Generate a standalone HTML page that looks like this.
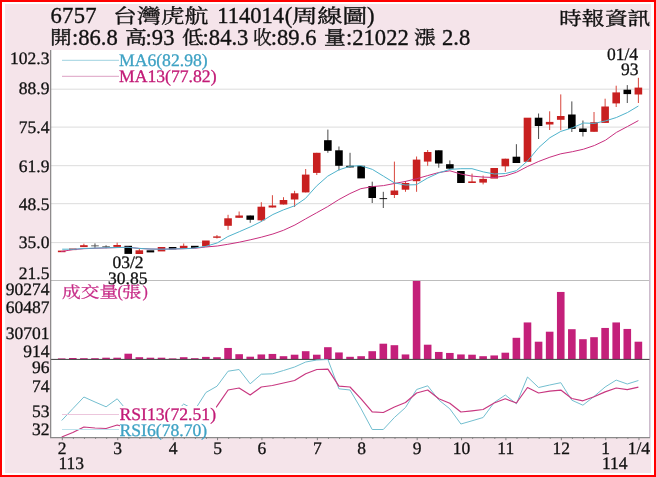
<!DOCTYPE html>
<html lang="zh-Hant"><head><meta charset="utf-8"><title>6757 台灣虎航 周線圖</title>
<style>
html,body{margin:0;padding:0;background:#fff;}
body{width:656px;height:477px;overflow:hidden;position:relative;font-family:'Liberation Serif','Noto Serif CJK TC','Noto Serif CJK SC',serif;color:#111;}
#frame{position:absolute;left:0;top:0;width:652px;height:473px;border:2px solid #ff0000;background:#fff;}
#bg{position:absolute;left:5px;top:4.3px;width:646px;height:468.3px;background:#f5e4ea;}
.t{position:absolute;white-space:nowrap;line-height:1;}
.h{transform:scaleY(1.04);transform-origin:0 60%;font-size:22.6px;-webkit-text-stroke:0.35px #111;}
.cj{transform-origin:0 0;-webkit-text-stroke:0.35px #111;}
.ax{text-rendering:geometricPrecision;font-size:17.5px;-webkit-text-stroke:0.3px #111;}
.yl{text-rendering:geometricPrecision;font-size:17.5px;text-align:right;width:46px;left:3.4px;-webkit-text-stroke:0.3px #111;}
.lg{text-rendering:geometricPrecision;font-size:17.65px;background:#fff;-webkit-text-stroke:0.3px currentColor;}
</style></head><body>
<div id="frame"></div><div id="bg"></div>
<svg width="656" height="477" viewBox="0 0 656 477" style="position:absolute;left:0;top:0">
<rect x="51" y="50" width="599" height="387.5" fill="#ffffff"/>
<line x1="51" x2="649.5" y1="89.2" y2="89.2" stroke="#dcdcdc" stroke-width="1"/>
<line x1="51" x2="649.5" y1="127.1" y2="127.1" stroke="#dcdcdc" stroke-width="1"/>
<line x1="51" x2="649.5" y1="165.7" y2="165.7" stroke="#dcdcdc" stroke-width="1"/>
<line x1="51" x2="649.5" y1="203.7" y2="203.7" stroke="#dcdcdc" stroke-width="1"/>
<line x1="51" x2="649.5" y1="242.6" y2="242.6" stroke="#dcdcdc" stroke-width="1"/>
<line x1="51" x2="649.5" y1="280.5" y2="280.5" stroke="#bdbdbd" stroke-width="1.2"/>
<line x1="649.7" x2="649.7" y1="50" y2="437.5" stroke="#cdbccd" stroke-width="1.4"/>
<rect x="57.90" y="358.40" width="7.6" height="0.80" fill="#c4207a"/>
<rect x="68.99" y="358.00" width="7.6" height="1.20" fill="#c4207a"/>
<rect x="80.08" y="358.20" width="7.6" height="1.00" fill="#c4207a"/>
<rect x="91.17" y="358.20" width="7.6" height="1.00" fill="#c4207a"/>
<rect x="102.26" y="357.70" width="7.6" height="1.50" fill="#c4207a"/>
<rect x="113.35" y="357.70" width="7.6" height="1.50" fill="#c4207a"/>
<rect x="124.44" y="353.70" width="7.6" height="5.50" fill="#c4207a"/>
<rect x="135.53" y="357.20" width="7.6" height="2.00" fill="#c4207a"/>
<rect x="146.62" y="357.70" width="7.6" height="1.50" fill="#c4207a"/>
<rect x="157.71" y="357.70" width="7.6" height="1.50" fill="#c4207a"/>
<rect x="168.80" y="358.40" width="7.6" height="0.80" fill="#c4207a"/>
<rect x="179.89" y="357.20" width="7.6" height="2.00" fill="#c4207a"/>
<rect x="190.98" y="358.20" width="7.6" height="1.00" fill="#c4207a"/>
<rect x="202.07" y="356.90" width="7.6" height="2.30" fill="#c4207a"/>
<rect x="213.16" y="357.20" width="7.6" height="2.00" fill="#c4207a"/>
<rect x="224.25" y="347.95" width="7.6" height="11.25" fill="#c4207a"/>
<rect x="235.34" y="354.20" width="7.6" height="5.00" fill="#c4207a"/>
<rect x="246.43" y="356.70" width="7.6" height="2.50" fill="#c4207a"/>
<rect x="257.52" y="354.45" width="7.6" height="4.75" fill="#c4207a"/>
<rect x="268.61" y="353.95" width="7.6" height="5.25" fill="#c4207a"/>
<rect x="279.70" y="356.20" width="7.6" height="3.00" fill="#c4207a"/>
<rect x="290.79" y="354.70" width="7.6" height="4.50" fill="#c4207a"/>
<rect x="301.88" y="351.20" width="7.6" height="8.00" fill="#c4207a"/>
<rect x="312.97" y="354.70" width="7.6" height="4.50" fill="#c4207a"/>
<rect x="324.06" y="347.20" width="7.6" height="12.00" fill="#c4207a"/>
<rect x="335.15" y="352.45" width="7.6" height="6.75" fill="#c4207a"/>
<rect x="346.24" y="356.80" width="7.6" height="2.40" fill="#c4207a"/>
<rect x="357.33" y="356.20" width="7.6" height="3.00" fill="#c4207a"/>
<rect x="368.42" y="351.20" width="7.6" height="8.00" fill="#c4207a"/>
<rect x="379.51" y="343.70" width="7.6" height="15.50" fill="#c4207a"/>
<rect x="390.60" y="345.20" width="7.6" height="14.00" fill="#c4207a"/>
<rect x="401.69" y="354.45" width="7.6" height="4.75" fill="#c4207a"/>
<rect x="412.78" y="280.95" width="7.6" height="78.25" fill="#c4207a"/>
<rect x="423.87" y="344.70" width="7.6" height="14.50" fill="#c4207a"/>
<rect x="434.96" y="351.95" width="7.6" height="7.25" fill="#c4207a"/>
<rect x="446.05" y="352.95" width="7.6" height="6.25" fill="#c4207a"/>
<rect x="457.14" y="354.45" width="7.6" height="4.75" fill="#c4207a"/>
<rect x="468.23" y="354.70" width="7.6" height="4.50" fill="#c4207a"/>
<rect x="479.32" y="356.20" width="7.6" height="3.00" fill="#c4207a"/>
<rect x="490.41" y="355.45" width="7.6" height="3.75" fill="#c4207a"/>
<rect x="501.50" y="352.70" width="7.6" height="6.50" fill="#c4207a"/>
<rect x="512.59" y="337.80" width="7.6" height="21.40" fill="#c4207a"/>
<rect x="523.68" y="322.45" width="7.6" height="36.75" fill="#c4207a"/>
<rect x="534.77" y="341.70" width="7.6" height="17.50" fill="#c4207a"/>
<rect x="545.86" y="331.70" width="7.6" height="27.50" fill="#c4207a"/>
<rect x="556.95" y="291.95" width="7.6" height="67.25" fill="#c4207a"/>
<rect x="568.04" y="329.20" width="7.6" height="30.00" fill="#c4207a"/>
<rect x="579.13" y="339.20" width="7.6" height="20.00" fill="#c4207a"/>
<rect x="590.22" y="337.20" width="7.6" height="22.00" fill="#c4207a"/>
<rect x="601.31" y="327.95" width="7.6" height="31.25" fill="#c4207a"/>
<rect x="612.40" y="322.45" width="7.6" height="36.75" fill="#c4207a"/>
<rect x="623.49" y="328.95" width="7.6" height="30.25" fill="#c4207a"/>
<rect x="634.58" y="341.70" width="7.6" height="17.50" fill="#c4207a"/>
<line x1="51" x2="649.5" y1="359.4" y2="359.4" stroke="#3c3c3c" stroke-width="1"/>
<rect x="57.90" y="250.6" width="7.6" height="1.6" fill="#c82020"/>
<rect x="68.99" y="248.5" width="7.6" height="1.6" fill="#c82020"/>
<line x1="83.88" x2="83.88" y1="243.7" y2="247.1" stroke="#d8463c" stroke-width="1"/>
<rect x="80.08" y="245.2" width="7.6" height="1.9" fill="#c82020"/>
<line x1="94.97" x2="94.97" y1="243.4" y2="247.9" stroke="#4a4a4a" stroke-width="1"/>
<rect x="91.17" y="245.4" width="7.6" height="0.9" fill="#555555"/>
<line x1="106.06" x2="106.06" y1="245.3" y2="248.2" stroke="#4a4a4a" stroke-width="1"/>
<rect x="102.26" y="246.3" width="7.6" height="0.9" fill="#555555"/>
<line x1="117.15" x2="117.15" y1="242.7" y2="246.9" stroke="#d8463c" stroke-width="1"/>
<rect x="113.35" y="245.0" width="7.6" height="1.9" fill="#c82020"/>
<rect x="124.44" y="245.8" width="7.6" height="8.1" fill="#000000"/>
<line x1="139.33" x2="139.33" y1="248.8" y2="254.0" stroke="#d8463c" stroke-width="1"/>
<rect x="135.53" y="250.3" width="7.6" height="3.7" fill="#c82020"/>
<rect x="146.62" y="250.3" width="7.6" height="2.1" fill="#000000"/>
<rect x="157.71" y="247.0" width="7.6" height="4.4" fill="#c82020"/>
<rect x="168.80" y="247.0" width="7.6" height="2.3" fill="#000000"/>
<line x1="183.69" x2="183.69" y1="243.5" y2="248.7" stroke="#d8463c" stroke-width="1"/>
<rect x="179.89" y="245.8" width="7.6" height="2.9" fill="#c82020"/>
<rect x="190.98" y="245.8" width="7.6" height="2.1" fill="#000000"/>
<rect x="202.07" y="240.5" width="7.6" height="5.9" fill="#c82020"/>
<line x1="216.96" x2="216.96" y1="235.0" y2="238.5" stroke="#d8463c" stroke-width="1"/>
<rect x="213.16" y="236.4" width="7.6" height="1.4" fill="#c82020"/>
<line x1="228.05" x2="228.05" y1="214.8" y2="229.9" stroke="#d8463c" stroke-width="1"/>
<rect x="224.25" y="218.3" width="7.6" height="7.5" fill="#c82020"/>
<line x1="239.14" x2="239.14" y1="211.5" y2="217.8" stroke="#d8463c" stroke-width="1"/>
<rect x="235.34" y="215.5" width="7.6" height="2.3" fill="#c82020"/>
<line x1="250.23" x2="250.23" y1="215.5" y2="222.8" stroke="#4a4a4a" stroke-width="1"/>
<rect x="246.43" y="215.5" width="7.6" height="4.3" fill="#000000"/>
<line x1="261.32" x2="261.32" y1="202.2" y2="221.6" stroke="#d8463c" stroke-width="1"/>
<rect x="257.52" y="206.7" width="7.6" height="13.6" fill="#c82020"/>
<line x1="272.41" x2="272.41" y1="195.2" y2="207.5" stroke="#d8463c" stroke-width="1"/>
<rect x="268.61" y="205.5" width="7.6" height="2.0" fill="#c82020"/>
<line x1="283.50" x2="283.50" y1="197.2" y2="204.5" stroke="#d8463c" stroke-width="1"/>
<rect x="279.70" y="200.0" width="7.6" height="4.5" fill="#c82020"/>
<line x1="294.59" x2="294.59" y1="190.8" y2="207.0" stroke="#d8463c" stroke-width="1"/>
<rect x="290.79" y="193.3" width="7.6" height="6.2" fill="#c82020"/>
<line x1="305.68" x2="305.68" y1="169.0" y2="192.4" stroke="#d8463c" stroke-width="1"/>
<rect x="301.88" y="174.6" width="7.6" height="17.8" fill="#c82020"/>
<line x1="316.77" x2="316.77" y1="152.8" y2="175.0" stroke="#d8463c" stroke-width="1"/>
<rect x="312.97" y="152.8" width="7.6" height="20.1" fill="#c82020"/>
<line x1="327.86" x2="327.86" y1="129.6" y2="152.8" stroke="#4a4a4a" stroke-width="1"/>
<rect x="324.06" y="140.2" width="7.6" height="10.6" fill="#000000"/>
<line x1="338.95" x2="338.95" y1="146.5" y2="170.4" stroke="#4a4a4a" stroke-width="1"/>
<rect x="335.15" y="150.3" width="7.6" height="15.5" fill="#000000"/>
<line x1="350.04" x2="350.04" y1="152.8" y2="167.4" stroke="#4a4a4a" stroke-width="1"/>
<rect x="346.24" y="165.8" width="7.6" height="1.6" fill="#000000"/>
<rect x="357.33" y="165.8" width="7.6" height="12.6" fill="#000000"/>
<line x1="372.22" x2="372.22" y1="181.7" y2="203.0" stroke="#4a4a4a" stroke-width="1"/>
<rect x="368.42" y="186.0" width="7.6" height="12.0" fill="#000000"/>
<line x1="383.31" x2="383.31" y1="191.8" y2="208.0" stroke="#4a4a4a" stroke-width="1"/>
<rect x="379.51" y="198.2" width="7.6" height="0.9" fill="#000000"/>
<line x1="394.40" x2="394.40" y1="161.6" y2="198.0" stroke="#d8463c" stroke-width="1"/>
<rect x="390.60" y="190.5" width="7.6" height="4.5" fill="#c82020"/>
<line x1="405.49" x2="405.49" y1="181.0" y2="191.8" stroke="#d8463c" stroke-width="1"/>
<rect x="401.69" y="183.0" width="7.6" height="6.7" fill="#c82020"/>
<line x1="416.58" x2="416.58" y1="156.5" y2="191.8" stroke="#d8463c" stroke-width="1"/>
<rect x="412.78" y="159.6" width="7.6" height="21.6" fill="#c82020"/>
<line x1="427.67" x2="427.67" y1="150.0" y2="165.8" stroke="#d8463c" stroke-width="1"/>
<rect x="423.87" y="152.0" width="7.6" height="9.6" fill="#c82020"/>
<line x1="438.76" x2="438.76" y1="150.3" y2="167.7" stroke="#4a4a4a" stroke-width="1"/>
<rect x="434.96" y="150.3" width="7.6" height="13.2" fill="#000000"/>
<line x1="449.85" x2="449.85" y1="160.4" y2="168.7" stroke="#4a4a4a" stroke-width="1"/>
<rect x="446.05" y="164.2" width="7.6" height="4.5" fill="#000000"/>
<rect x="457.14" y="171.0" width="7.6" height="12.0" fill="#000000"/>
<line x1="472.03" x2="472.03" y1="173.6" y2="183.0" stroke="#d8463c" stroke-width="1"/>
<rect x="468.23" y="181.4" width="7.6" height="1.6" fill="#c82020"/>
<line x1="483.12" x2="483.12" y1="175.6" y2="184.4" stroke="#d8463c" stroke-width="1"/>
<rect x="479.32" y="178.9" width="7.6" height="3.7" fill="#c82020"/>
<rect x="490.41" y="168.0" width="7.6" height="10.6" fill="#c82020"/>
<line x1="505.30" x2="505.30" y1="158.7" y2="171.8" stroke="#d8463c" stroke-width="1"/>
<rect x="501.50" y="158.7" width="7.6" height="7.6" fill="#c82020"/>
<line x1="516.39" x2="516.39" y1="144.2" y2="163.0" stroke="#4a4a4a" stroke-width="1"/>
<rect x="512.59" y="156.7" width="7.6" height="6.3" fill="#000000"/>
<rect x="523.68" y="117.7" width="7.6" height="44.1" fill="#c82020"/>
<line x1="538.57" x2="538.57" y1="113.5" y2="139.0" stroke="#4a4a4a" stroke-width="1"/>
<rect x="534.77" y="117.7" width="7.6" height="8.3" fill="#000000"/>
<line x1="549.66" x2="549.66" y1="111.3" y2="130.0" stroke="#d8463c" stroke-width="1"/>
<rect x="545.86" y="121.9" width="7.6" height="2.6" fill="#c82020"/>
<line x1="560.75" x2="560.75" y1="94.4" y2="130.2" stroke="#d8463c" stroke-width="1"/>
<rect x="556.95" y="116.0" width="7.6" height="3.8" fill="#c82020"/>
<line x1="571.84" x2="571.84" y1="101.4" y2="132.0" stroke="#4a4a4a" stroke-width="1"/>
<rect x="568.04" y="114.5" width="7.6" height="14.4" fill="#000000"/>
<line x1="582.93" x2="582.93" y1="120.5" y2="136.5" stroke="#4a4a4a" stroke-width="1"/>
<rect x="579.13" y="128.5" width="7.6" height="3.5" fill="#000000"/>
<line x1="594.02" x2="594.02" y1="112.0" y2="131.8" stroke="#d8463c" stroke-width="1"/>
<rect x="590.22" y="122.2" width="7.6" height="9.6" fill="#c82020"/>
<line x1="605.11" x2="605.11" y1="98.7" y2="122.9" stroke="#d8463c" stroke-width="1"/>
<rect x="601.31" y="106.5" width="7.6" height="16.4" fill="#c82020"/>
<line x1="616.20" x2="616.20" y1="85.7" y2="107.0" stroke="#d8463c" stroke-width="1"/>
<rect x="612.40" y="92.4" width="7.6" height="11.0" fill="#c82020"/>
<line x1="627.29" x2="627.29" y1="85.1" y2="103.0" stroke="#4a4a4a" stroke-width="1"/>
<rect x="623.49" y="89.7" width="7.6" height="4.4" fill="#000000"/>
<line x1="638.38" x2="638.38" y1="77.8" y2="103.0" stroke="#d8463c" stroke-width="1"/>
<rect x="634.58" y="87.6" width="7.6" height="6.9" fill="#c82020"/>
<polyline points="61.0,251.6 72.8,249.6 83.9,248.7 95.0,248.3 106.0,247.9 117.0,247.6 128.0,247.3 139.0,248.4 150.0,249.0 161.0,249.2 172.0,249.0 183.0,248.7 190.0,248.5 194.8,248.3 205.7,247.0 217.3,246.0 227.8,244.3 239.3,242.2 250.8,239.7 261.3,237.2 272.9,234.0 283.4,230.3 294.9,225.0 305.4,219.0 316.4,212.9 327.7,206.6 338.8,199.6 349.9,193.6 360.8,188.7 372.4,186.6 383.5,185.6 394.4,183.5 405.5,181.4 416.4,178.8 427.3,175.7 438.8,172.5 449.9,170.8 460.8,174.0 472.0,176.1 483.3,177.1 494.4,177.5 505.5,175.8 516.4,172.3 527.7,166.4 538.8,161.4 549.9,157.2 560.8,153.8 572.4,151.7 583.5,149.2 594.4,145.5 605.5,140.2 616.4,132.4 627.5,126.5 638.4,120.6" fill="none" stroke="#c8307f" stroke-width="1" stroke-linejoin="round"/>
<polyline points="62.2,249.2 68.3,249.2 72.8,249.3 83.9,248.5 95.0,248.1 106.0,247.8 117.0,247.5 128.0,247.3 139.0,248.4 150.0,249.0 161.0,249.2 172.0,249.0 183.0,248.7 190.0,248.4 194.8,248.0 205.7,246.4 217.3,242.9 227.8,236.6 239.3,231.7 250.8,226.7 261.3,221.5 272.9,214.5 283.4,209.9 294.9,205.7 305.4,198.5 316.4,186.2 327.7,176.2 338.8,169.9 349.9,166.3 360.8,165.7 372.4,169.4 383.5,176.2 394.4,182.9 405.5,185.0 416.4,184.7 427.3,178.2 438.8,172.9 449.9,169.4 460.8,168.7 472.0,168.7 483.3,171.9 494.4,174.0 505.5,173.5 516.4,170.7 527.7,160.8 538.8,147.5 549.9,137.7 560.8,131.4 572.4,127.8 583.5,123.0 594.4,123.4 605.5,120.9 616.4,117.5 627.5,112.5 638.4,106.0" fill="none" stroke="#4fb3cc" stroke-width="1" stroke-linejoin="round"/>
<polyline points="61.7,420.5 72.8,408.7 83.9,397.0 95.0,402.0 106.1,406.8 117.2,398.8 128.2,412.0 139.3,420.0 150.4,418.0 161.5,414.0 172.6,415.0 183.7,404.0 194.8,410.0 205.9,392.5 217.0,386.2 228.1,371.2 239.1,369.5 250.2,383.8 261.3,374.2 272.4,373.8 283.5,370.5 294.6,367.0 305.7,362.0 316.8,360.0 327.9,359.5 338.9,388.8 350.0,390.0 361.1,408.8 372.2,429.5 383.3,429.5 394.4,417.5 405.5,407.5 416.6,389.5 427.7,385.8 438.8,400.0 449.8,408.8 460.9,424.0 472.0,420.8 483.1,417.5 494.2,402.5 505.3,395.0 516.4,403.8 527.5,377.0 538.6,387.5 549.7,385.0 560.8,382.7 571.8,400.2 582.9,405.2 594.0,396.5 605.1,387.0 616.2,380.1 627.3,384.0 638.4,380.5" fill="none" stroke="#74bfd0" stroke-width="1" stroke-linejoin="round"/>
<polyline points="61.7,437.0 72.8,432.5 83.9,427.0 95.0,428.0 106.1,428.5 117.2,425.0 128.2,428.0 139.3,432.0 150.4,431.0 161.5,429.0 172.6,429.0 183.7,426.0 194.8,426.0 205.9,418.0 217.0,406.2 228.1,390.0 239.1,388.0 250.2,395.0 261.3,387.0 272.4,385.5 283.5,383.0 294.6,380.5 305.7,373.8 316.8,369.5 327.9,369.2 338.9,386.2 350.0,387.0 361.1,398.8 372.2,411.8 383.3,412.5 394.4,407.0 405.5,402.5 416.6,393.0 427.7,390.0 438.8,398.8 449.8,403.2 460.9,412.0 472.0,410.8 483.1,409.5 494.2,403.0 505.3,398.8 516.4,403.0 527.5,387.5 538.6,393.0 549.7,391.2 560.8,390.1 571.8,398.5 582.9,400.8 594.0,396.8 605.1,391.9 616.2,388.0 627.3,389.7 638.4,387.2" fill="none" stroke="#c83880" stroke-width="1.2" stroke-linejoin="round"/>
<line x1="50.7" x2="50.7" y1="50" y2="438" stroke="#7c7c7c" stroke-width="1.1"/>
<line x1="50" x2="650" y1="437.6" y2="437.6" stroke="#8a8a8a" stroke-width="1.1"/>
<line x1="62.30" x2="62.30" y1="437.6" y2="440.20000000000005" stroke="#777777" stroke-width="0.9"/>
<line x1="73.39" x2="73.39" y1="437.6" y2="438.90000000000003" stroke="#777777" stroke-width="0.9"/>
<line x1="84.48" x2="84.48" y1="437.6" y2="438.90000000000003" stroke="#777777" stroke-width="0.9"/>
<line x1="95.57" x2="95.57" y1="437.6" y2="438.90000000000003" stroke="#777777" stroke-width="0.9"/>
<line x1="106.66" x2="106.66" y1="437.6" y2="438.90000000000003" stroke="#777777" stroke-width="0.9"/>
<line x1="117.75" x2="117.75" y1="437.6" y2="440.20000000000005" stroke="#777777" stroke-width="0.9"/>
<line x1="128.84" x2="128.84" y1="437.6" y2="438.90000000000003" stroke="#777777" stroke-width="0.9"/>
<line x1="139.93" x2="139.93" y1="437.6" y2="438.90000000000003" stroke="#777777" stroke-width="0.9"/>
<line x1="151.02" x2="151.02" y1="437.6" y2="438.90000000000003" stroke="#777777" stroke-width="0.9"/>
<line x1="162.11" x2="162.11" y1="437.6" y2="438.90000000000003" stroke="#777777" stroke-width="0.9"/>
<line x1="173.20" x2="173.20" y1="437.6" y2="440.20000000000005" stroke="#777777" stroke-width="0.9"/>
<line x1="184.29" x2="184.29" y1="437.6" y2="438.90000000000003" stroke="#777777" stroke-width="0.9"/>
<line x1="195.38" x2="195.38" y1="437.6" y2="438.90000000000003" stroke="#777777" stroke-width="0.9"/>
<line x1="206.47" x2="206.47" y1="437.6" y2="438.90000000000003" stroke="#777777" stroke-width="0.9"/>
<line x1="217.56" x2="217.56" y1="437.6" y2="440.20000000000005" stroke="#777777" stroke-width="0.9"/>
<line x1="228.65" x2="228.65" y1="437.6" y2="438.90000000000003" stroke="#777777" stroke-width="0.9"/>
<line x1="239.74" x2="239.74" y1="437.6" y2="438.90000000000003" stroke="#777777" stroke-width="0.9"/>
<line x1="250.83" x2="250.83" y1="437.6" y2="438.90000000000003" stroke="#777777" stroke-width="0.9"/>
<line x1="261.92" x2="261.92" y1="437.6" y2="440.20000000000005" stroke="#777777" stroke-width="0.9"/>
<line x1="273.01" x2="273.01" y1="437.6" y2="438.90000000000003" stroke="#777777" stroke-width="0.9"/>
<line x1="284.10" x2="284.10" y1="437.6" y2="438.90000000000003" stroke="#777777" stroke-width="0.9"/>
<line x1="295.19" x2="295.19" y1="437.6" y2="438.90000000000003" stroke="#777777" stroke-width="0.9"/>
<line x1="306.28" x2="306.28" y1="437.6" y2="438.90000000000003" stroke="#777777" stroke-width="0.9"/>
<line x1="317.37" x2="317.37" y1="437.6" y2="440.20000000000005" stroke="#777777" stroke-width="0.9"/>
<line x1="328.46" x2="328.46" y1="437.6" y2="438.90000000000003" stroke="#777777" stroke-width="0.9"/>
<line x1="339.55" x2="339.55" y1="437.6" y2="438.90000000000003" stroke="#777777" stroke-width="0.9"/>
<line x1="350.64" x2="350.64" y1="437.6" y2="438.90000000000003" stroke="#777777" stroke-width="0.9"/>
<line x1="361.73" x2="361.73" y1="437.6" y2="440.20000000000005" stroke="#777777" stroke-width="0.9"/>
<line x1="372.82" x2="372.82" y1="437.6" y2="438.90000000000003" stroke="#777777" stroke-width="0.9"/>
<line x1="383.91" x2="383.91" y1="437.6" y2="438.90000000000003" stroke="#777777" stroke-width="0.9"/>
<line x1="395.00" x2="395.00" y1="437.6" y2="438.90000000000003" stroke="#777777" stroke-width="0.9"/>
<line x1="406.09" x2="406.09" y1="437.6" y2="438.90000000000003" stroke="#777777" stroke-width="0.9"/>
<line x1="417.18" x2="417.18" y1="437.6" y2="440.20000000000005" stroke="#777777" stroke-width="0.9"/>
<line x1="428.27" x2="428.27" y1="437.6" y2="438.90000000000003" stroke="#777777" stroke-width="0.9"/>
<line x1="439.36" x2="439.36" y1="437.6" y2="438.90000000000003" stroke="#777777" stroke-width="0.9"/>
<line x1="450.45" x2="450.45" y1="437.6" y2="438.90000000000003" stroke="#777777" stroke-width="0.9"/>
<line x1="461.54" x2="461.54" y1="437.6" y2="440.20000000000005" stroke="#777777" stroke-width="0.9"/>
<line x1="472.63" x2="472.63" y1="437.6" y2="438.90000000000003" stroke="#777777" stroke-width="0.9"/>
<line x1="483.72" x2="483.72" y1="437.6" y2="438.90000000000003" stroke="#777777" stroke-width="0.9"/>
<line x1="494.81" x2="494.81" y1="437.6" y2="438.90000000000003" stroke="#777777" stroke-width="0.9"/>
<line x1="505.90" x2="505.90" y1="437.6" y2="440.20000000000005" stroke="#777777" stroke-width="0.9"/>
<line x1="516.99" x2="516.99" y1="437.6" y2="438.90000000000003" stroke="#777777" stroke-width="0.9"/>
<line x1="528.08" x2="528.08" y1="437.6" y2="438.90000000000003" stroke="#777777" stroke-width="0.9"/>
<line x1="539.17" x2="539.17" y1="437.6" y2="438.90000000000003" stroke="#777777" stroke-width="0.9"/>
<line x1="550.26" x2="550.26" y1="437.6" y2="438.90000000000003" stroke="#777777" stroke-width="0.9"/>
<line x1="561.35" x2="561.35" y1="437.6" y2="440.20000000000005" stroke="#777777" stroke-width="0.9"/>
<line x1="572.44" x2="572.44" y1="437.6" y2="438.90000000000003" stroke="#777777" stroke-width="0.9"/>
<line x1="583.53" x2="583.53" y1="437.6" y2="438.90000000000003" stroke="#777777" stroke-width="0.9"/>
<line x1="594.62" x2="594.62" y1="437.6" y2="438.90000000000003" stroke="#777777" stroke-width="0.9"/>
<line x1="605.71" x2="605.71" y1="437.6" y2="440.20000000000005" stroke="#777777" stroke-width="0.9"/>
<line x1="616.80" x2="616.80" y1="437.6" y2="438.90000000000003" stroke="#777777" stroke-width="0.9"/>
<line x1="627.89" x2="627.89" y1="437.6" y2="438.90000000000003" stroke="#777777" stroke-width="0.9"/>
<line x1="638.98" x2="638.98" y1="437.6" y2="440.20000000000005" stroke="#777777" stroke-width="0.9"/>
<line x1="62" x2="119" y1="60.3" y2="60.3" stroke="#9fd3e0" stroke-width="1"/>
<line x1="62" x2="119" y1="76.3" y2="76.3" stroke="#dca0c4" stroke-width="1"/>
</svg>
<div class="t h" style="left:50.4px;top:5.0px;letter-spacing:0.35px;">6757</div>
<div class="t cj" style="left:112.8px;top:7.0px;font-size:19.2px;transform:scaleX(1.245);">台灣虎航</div>
<div class="t h" style="left:217.2px;top:5.0px;">114014</div>
<div class="t h" style="left:284.8px;top:5.0px;">(</div>
<div class="t cj" style="left:291.8px;top:7.0px;font-size:19.2px;transform:scaleX(1.31);">周線圖</div>
<div class="t h" style="left:367.0px;top:5.0px;">)</div>
<div class="t cj" style="left:50.2px;top:28.9px;font-size:18.0px;transform:scaleX(1.21);">開</div>
<div class="t h" style="left:72.0px;top:27.1px;">:86.8</div>
<div class="t cj" style="left:124.8px;top:28.9px;font-size:18.0px;transform:scaleX(1.21);">高</div>
<div class="t h" style="left:145.6px;top:27.1px;">:93</div>
<div class="t cj" style="left:182.0px;top:28.9px;font-size:18.0px;transform:scaleX(1.21);">低</div>
<div class="t h" style="left:202.6px;top:27.1px;">:84.3</div>
<div class="t cj" style="left:253.4px;top:28.9px;font-size:18.0px;transform:scaleX(1.04);">收</div>
<div class="t h" style="left:270.8px;top:27.1px;">:89.6</div>
<div class="t cj" style="left:324.4px;top:28.9px;font-size:18.0px;transform:scaleX(1.21);">量</div>
<div class="t h" style="left:346.0px;top:27.1px;">:21022</div>
<div class="t cj" style="left:414.0px;top:28.9px;font-size:18.0px;transform:scaleX(1.21);">漲</div>
<div class="t h" style="left:442.0px;top:27.1px;">2.8</div>
<div class="t cj" style="left:558.6px;top:10.2px;font-size:18.6px;transform:scaleX(1.23);">時報資訊</div>
<div class="t yl" style="top:49.7px;">102.3</div>
<div class="t yl" style="top:80.2px;">88.9</div>
<div class="t yl" style="top:118.9px;">75.4</div>
<div class="t yl" style="top:157.6px;">61.9</div>
<div class="t yl" style="top:195.6px;">48.5</div>
<div class="t yl" style="top:234.1px;">35.0</div>
<div class="t yl" style="top:265.2px;">21.5</div>
<div class="t yl" style="top:281.2px;">90274</div>
<div class="t yl" style="top:298.6px;">60487</div>
<div class="t yl" style="top:324.9px;">30701</div>
<div class="t yl" style="top:343.2px;">914</div>
<div class="t yl" style="top:359.0px;">96</div>
<div class="t yl" style="top:377.8px;">74</div>
<div class="t yl" style="top:403.1px;">53</div>
<div class="t yl" style="top:421.2px;">32</div>
<div class="t lg" style="left:119px;top:51.5px;color:#3ea2c4;background:none;">MA6(82.98)</div>
<div class="t lg" style="left:119px;top:67.5px;color:#c21a76;background:none;">MA13(77.82)</div>
<div class="t cj" style="left:61.8px;top:285.0px;font-size:14.4px;transform:scaleX(1.3);color:#c62a86;-webkit-text-stroke:0.25px #c62a86;">成交量</div>
<div class="t" style="left:117.6px;top:283.6px;font-size:16px;color:#c62a86;-webkit-text-stroke:0.25px #c62a86;">(</div>
<div class="t cj" style="left:122.4px;top:285.0px;font-size:14.4px;transform:scaleX(1.34);color:#c62a86;-webkit-text-stroke:0.25px #c62a86;">張</div>
<div class="t" style="left:142.4px;top:283.6px;font-size:16px;color:#c62a86;-webkit-text-stroke:0.25px #c62a86;">)</div>
<div class="t" style="left:62px;top:413.6px;width:57px;height:1px;background:#ecc6dc;"></div>
<div class="t" style="left:62px;top:429.2px;width:57px;height:1px;background:#bde2ec;"></div>
<div class="t lg" style="left:119.5px;top:406px;height:16px;color:#c21a76;">RSI13(72.51)</div>
<div class="t lg" style="left:119.5px;top:421.5px;height:15.5px;color:#3ea2c4;">RSI6(78.70)</div>
<div class="t ax" style="left:112.5px;top:254px;">03/2</div>
<div class="t ax" style="left:108px;top:269.5px;">30.85</div>
<div class="t ax" style="left:607px;top:46px;">01/4</div>
<div class="t ax" style="left:621px;top:61px;">93</div>
<div class="t ax" style="left:42.2px;width:40px;text-align:center;top:439.5px;">2</div>
<div class="t ax" style="left:97.7px;width:40px;text-align:center;top:439.5px;">3</div>
<div class="t ax" style="left:153.1px;width:40px;text-align:center;top:439.5px;">4</div>
<div class="t ax" style="left:197.5px;width:40px;text-align:center;top:439.5px;">5</div>
<div class="t ax" style="left:241.8px;width:40px;text-align:center;top:439.5px;">6</div>
<div class="t ax" style="left:297.3px;width:40px;text-align:center;top:439.5px;">7</div>
<div class="t ax" style="left:341.6px;width:40px;text-align:center;top:439.5px;">8</div>
<div class="t ax" style="left:397.1px;width:40px;text-align:center;top:439.5px;">9</div>
<div class="t ax" style="left:441.4px;width:40px;text-align:center;top:439.5px;">10</div>
<div class="t ax" style="left:485.8px;width:40px;text-align:center;top:439.5px;">11</div>
<div class="t ax" style="left:541.2px;width:40px;text-align:center;top:439.5px;">12</div>
<div class="t ax" style="left:585.6px;width:40px;text-align:center;top:439.5px;">1</div>
<div class="t ax" style="left:618.9px;width:40px;text-align:center;top:439.5px;">1/4</div>
<div class="t ax" style="left:58.5px;top:455px;">113</div>
<div class="t ax" style="left:602px;top:455px;">114</div>
</body></html>
